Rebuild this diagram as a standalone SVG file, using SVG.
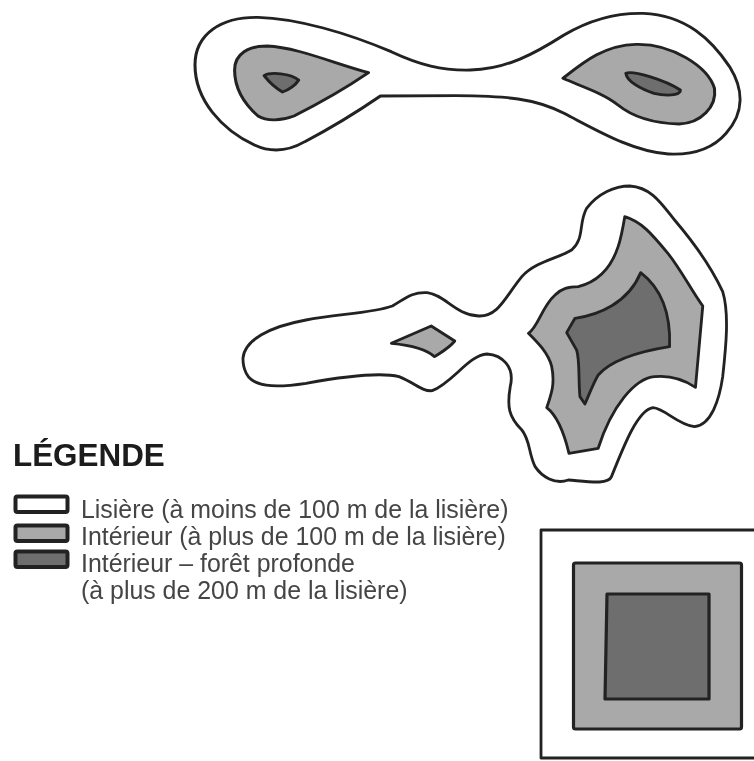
<svg xmlns="http://www.w3.org/2000/svg" width="754" height="761" viewBox="0 0 754 761">
<style>
.o{fill:#fff;stroke:#222;stroke-linejoin:round}
.g{fill:#a9a9a9;stroke:#222;stroke-linejoin:round}
.d{fill:#6e6e6e;stroke:#222;stroke-linejoin:round}
.t{font-family:"Liberation Sans",Arial,sans-serif;font-size:24.9px;fill:#444}
.h{font-family:"Liberation Sans",Arial,sans-serif;font-size:31.4px;font-weight:bold;fill:#1a1a1a}
.s{filter:url(#soft)}
</style>
<defs><filter id="soft" x="-5%" y="-5%" width="110%" height="110%"><feGaussianBlur stdDeviation="0.7"/></filter></defs>
<rect width="754" height="761" fill="#fff"/>
<g id="forest-top" class="s"><g transform="translate(189.600 10) scale(.36 .3333)" stroke-width="8.500">
<path class="o" d="M15,165 C15,70 90,20 190,22 C300,25 440,70 560,125 C640,165 700,182 780,180 C880,178 960,130 1040,75 C1110,30 1180,8 1260,10 C1380,15 1450,90 1500,170 C1540,240 1540,310 1490,370 C1450,420 1390,435 1330,432 C1230,425 1130,360 1040,310 C960,265 880,258 740,257 L530,258 C480,295 400,350 320,395 C280,420 230,430 180,405 C90,360 15,270 15,165Z"/>
<path class="g" d="M125,180 C125,130 165,108 215,108 C300,112 400,160 497,188 C440,230 360,280 290,318 C255,332 215,335 190,318 C150,280 125,235 125,180Z"/>
<path class="d" d="M207,197 C225,185 280,190 303,210 C295,225 275,240 258,246 C240,235 220,215 207,197Z"/>
<path class="g" d="M1037,205 C1090,160 1150,105 1240,103 C1340,100 1440,170 1458,235 C1465,290 1420,340 1360,342 C1290,340 1230,320 1190,285 C1150,250 1090,230 1037,205Z"/>
<path class="d" d="M1212,190 C1230,180 1320,210 1363,240 C1365,258 1320,258 1290,250 C1255,238 1215,215 1212,190Z"/>
</g></g>
<g id="forest-middle" class="s"><g transform="translate(233 180) scale(.332 .3333)" stroke-width="8.500">
<path class="o" d="M30,535 C35,480 110,440 220,420 C310,402 420,400 480,378 C520,355 540,335 585,338 C640,345 670,405 740,408 C800,410 820,350 870,290 C910,245 980,235 1020,210 C1060,175 1040,130 1065,85 C1100,40 1150,18 1195,18 C1260,22 1290,70 1330,120 C1390,190 1440,260 1475,335 C1495,400 1485,500 1475,590 C1465,660 1440,735 1390,740 C1340,735 1300,685 1265,683 C1220,690 1180,790 1140,890 C1130,915 1070,905 1010,900 C970,915 930,890 910,860 C890,820 895,780 870,750 C830,710 825,680 835,620 C850,560 810,525 765,522 C710,525 660,610 600,632 C570,635 550,610 500,590 C440,575 330,590 220,610 C120,625 60,620 40,580 C32,565 30,550 30,535Z"/>
<path class="g" d="M1180,110 C1230,125 1260,160 1310,220 C1350,270 1380,330 1415,378 L1393,622 C1360,600 1320,585 1270,590 C1210,595 1140,680 1100,805 L1012,820 C1000,770 980,710 945,683 C960,640 970,610 960,560 C950,520 920,490 890,460 C920,440 930,380 970,345 C990,325 1010,320 1040,320 C1100,305 1140,260 1160,200 C1170,170 1175,140 1180,110Z"/>
<path class="d" d="M1228,278 C1270,310 1320,370 1315,500 C1220,515 1140,540 1100,585 C1085,610 1070,650 1060,672 L1045,650 C1040,600 1045,540 1035,510 L1005,458 L1030,415 C1100,405 1190,370 1228,278Z"/>
<path class="g" d="M477,490 L597,438 L668,483 C650,505 630,515 607,530 C580,505 530,495 477,490Z"/>
</g></g>
<g id="forest-square" class="s" stroke-width="3.200">
<rect class="o" x="541" y="530" width="220" height="228" stroke-width="2.800"/>
<rect class="g" x="573.500" y="563" width="168" height="166" rx="2"/>
<path class="d" d="M607,594 H709 V699 H605Z"/>
</g>
<g id="legend" class="s">
<text class="h" x="13" y="466">LÉGENDE</text>
<rect class="o" x="15.500" y="496.500" width="52" height="15.500" rx="2" stroke-width="4"/>
<rect class="g" x="15.500" y="525.500" width="52" height="15.500" rx="2" stroke-width="4"/>
<rect class="d" x="15.500" y="551.500" width="52" height="15.500" rx="2" stroke-width="4"/>
<text class="t" x="81" y="518">Lisière (à moins de 100 m de la lisière)</text>
<text class="t" x="81" y="545">Intérieur (à plus de 100 m de la lisière)</text>
<text class="t" x="81" y="572">Intérieur – forêt profonde</text>
<text class="t" x="81" y="599">(à plus de 200 m de la lisière)</text>
</g>
</svg>
